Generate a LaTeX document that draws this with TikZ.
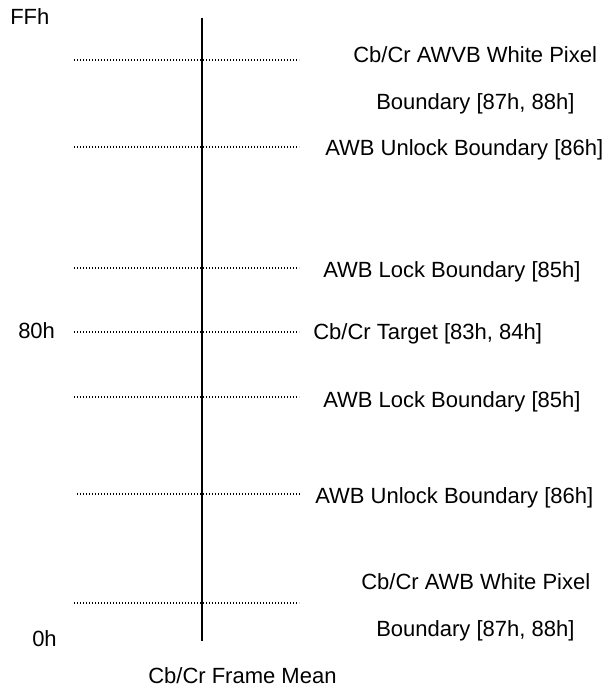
\documentclass[tikz,border=0pt]{standalone}
\usepackage{fontspec}
\setmainfont{Liberation Sans}
\usetikzlibrary{positioning}
\tikzset{lbl/.style={anchor=base west,inner sep=0pt,font=\fontsize{16.5}{19}\selectfont},
  lvl/.style={line width=1.6pt,dash pattern=on 1.1pt off 1.15pt}}

\begin{document}
\begin{tikzpicture}[x=0.75pt,y=-0.75pt]
\useasboundingbox (0,0) rectangle (607,688);
% axis
\coordinate (top) at (202,18);
\coordinate (bot) at (202,641);
\draw[line width=1.4pt] (top) -- (bot);
% levels
\coordinate (wpA) at (74,60);   \coordinate (wpB) at (299,60);
\coordinate (ulA) at (74,147);  \coordinate (ulB) at (299,147);
\coordinate (lkA) at (74,268);  \coordinate (lkB) at (299,268);
\coordinate (tgA) at (74,332);  \coordinate (tgB) at (299,332);
\coordinate (lkC) at (74,397);  \coordinate (lkD) at (299,397);
\coordinate (ulC) at (77,494);  \coordinate (ulD) at (301,494);
\coordinate (wpC) at (74,603);  \coordinate (wpD) at (299,603);
\draw[lvl] (wpA) -- (wpB);
\draw[lvl] (ulA) -- (ulB);
\draw[lvl] (lkA) -- (lkB);
\draw[lvl] (tgA) -- (tgB);
\draw[lvl] (lkC) -- (lkD);
\draw[lvl] (ulC) -- (ulD);
\draw[lvl] (wpC) -- (wpD);
% axis values
\node[lbl] (ffh) at (10,25) {FFh};
\node[lbl] (mid) at (18,338.7) {80h};
\node[lbl] (zero) at (32,646) {0h};
\node[lbl] (mean) at (148,683) {Cb/Cr Frame Mean};
% boundaries
\node[lbl] (wp1) at (353,62.7) {Cb/Cr AWVB White Pixel};
\node[lbl] (wp1b) at (376,109.7) {Boundary [87h, 88h]};
\node[lbl] (ul1) at (325,155.7) {AWB Unlock Boundary [86h]};
\node[lbl] (lk1) at (323,277.7) {AWB Lock Boundary [85h]};
\node[lbl] (tg) at (313,339.7) {Cb/Cr Target [83h, 84h]};
\node[lbl] (lk2) at (323,407.7) {AWB Lock Boundary [85h]};
\node[lbl] (ul2) at (315,503.7) {AWB Unlock Boundary [86h]};
\node[lbl] (wp2) at (361,589.7) {Cb/Cr AWB White Pixel};
\node[lbl] (wp2b) at (376,636.7) {Boundary [87h, 88h]};
\end{tikzpicture}
\end{document}
